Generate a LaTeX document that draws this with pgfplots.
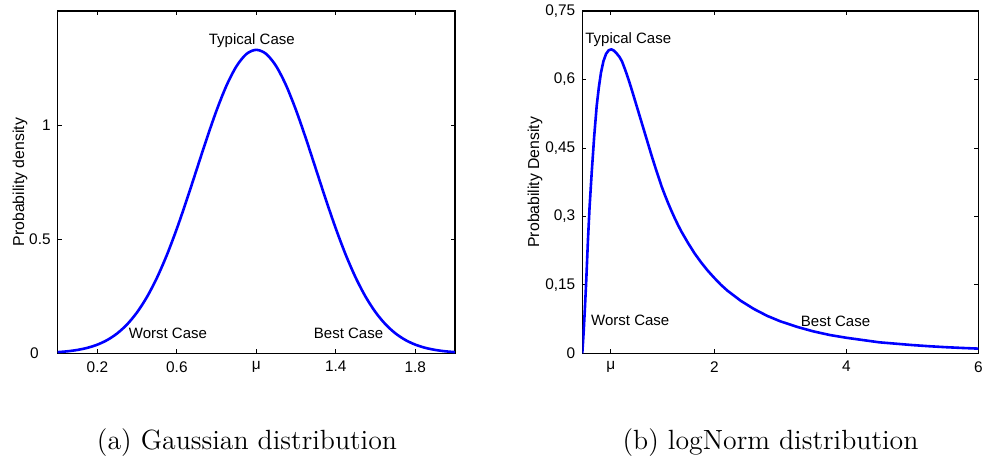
\documentclass[border=0pt]{standalone}
\usepackage{fontspec}
\usepackage{pgfplots}
\pgfplotsset{compat=1.18}
\newfontfamily\arial{Liberation Sans}
\definecolor{mblue}{RGB}{0,0,255}

\pgfplotstableread{
x y
0.00 0.0051
0.05 0.0088
0.10 0.0148
0.15 0.0240
0.20 0.0380
0.25 0.0584
0.30 0.0874
0.35 0.1272
0.40 0.1800
0.45 0.2477
0.50 0.3316
0.55 0.4317
0.60 0.5467
0.65 0.6733
0.70 0.8066
0.75 0.9397
0.80 1.0648
0.85 1.1736
0.90 1.2579
0.95 1.3115
1.00 1.3298
1.05 1.3115
1.10 1.2579
1.15 1.1736
1.20 1.0648
1.25 0.9397
1.30 0.8066
1.35 0.6733
1.40 0.5467
1.45 0.4317
1.50 0.3316
1.55 0.2477
1.60 0.1800
1.65 0.1272
1.70 0.0874
1.75 0.0584
1.80 0.0380
1.85 0.0240
1.90 0.0148
1.95 0.0088
2.00 0.0051
}\gaussdata

\pgfplotstableread{
x y
0.000 0.000
0.020 0.045
0.040 0.100
0.060 0.160
0.086 0.249
0.110 0.320
0.142 0.395
0.180 0.475
0.218 0.542
0.250 0.582
0.283 0.615
0.320 0.640
0.360 0.656
0.400 0.664
0.440 0.666
0.480 0.663
0.520 0.657
0.560 0.650
0.600 0.640
0.650 0.621
0.700 0.600
0.750 0.577
0.800 0.553
0.850 0.529
0.900 0.505
0.950 0.481
1.000 0.457
1.050 0.433
1.100 0.410
1.150 0.388
1.200 0.366
1.250 0.347
1.300 0.329
1.350 0.312
1.400 0.296
1.450 0.281
1.500 0.267
1.600 0.242
1.700 0.219
1.800 0.199
1.900 0.181
2.000 0.165
2.100 0.150
2.200 0.137
2.300 0.126
2.400 0.115
2.500 0.106
2.600 0.097
2.800 0.082
3.000 0.070
3.250 0.058
3.500 0.048
3.750 0.040
4.000 0.034
4.250 0.029
4.500 0.024
4.750 0.021
5.000 0.018
5.250 0.0155
5.500 0.0134
5.750 0.0117
6.000 0.0102
}\lognormdata

\pgfplotsset{
  mstyle/.style={
    scale only axis,
    anchor=south west,
    height=171.15pt,
    tick align=inside,
    major tick length=2pt,
    tick style={black,line width=0.4pt},
    axis line style={black,line width=0.6pt},
    ticklabel style={font=\arial\fontsize{7.7}{9}\selectfont},
    /pgf/number format/assume math mode=true,
    xticklabel style={yshift=-0.5pt},
  },
}
\tikzset{annot/.style={font=\arial\fontsize{7.5}{9}\selectfont, anchor=base, inner sep=0pt}}

\begin{document}
\begin{tikzpicture}[x=1pt,y=1pt]
\useasboundingbox (0,0) rectangle (491,229.5);

\begin{axis}[
  mstyle,
  at={(28.85pt,52.85pt)},
  width=198.65pt,
  xmin=0, xmax=2, ymin=0, ymax=1.5,
  xtick={0.2,0.6,1,1.4,1.8},
  xticklabels={0.2,0.6,μ,1.4,1.8},
  ytick={0,0.5,1},
  yticklabels={0\kern6pt,0.5,1},
  ylabel={Probability density},
  every axis y label/.style={at={(axis description cs:-0.0949,0.5)},rotate=90,anchor=center,font=\arial\fontsize{7.9}{9}\selectfont},
]
\addplot[mblue, line width=1.3pt, smooth, tension=0.5] table {\gaussdata};
\node[annot] at (axis cs:0.977,1.353) {Typical Case};
\node[annot] at (axis cs:0.555,0.066) {Worst Case};
\node[annot] at (axis cs:1.464,0.063) {Best Case};
\end{axis}

\begin{axis}[
  mstyle,
  at={(291.15pt,52.85pt)},
  width=198.1pt,
  xmin=0, xmax=6, ymin=0, ymax=0.75,
  xtick={0.43,2,4,6},
  xticklabels={μ,2,4,6},
  ytick={0,0.15,0.3,0.45,0.6,0.75},
  yticklabels={0,{0,15},{0,3},{0,45},{0,6},{0,75}},
  ylabel={Probability Density},
  every axis y label/.style={at={(axis description cs:-0.1194,0.5)},rotate=90,anchor=center,font=\arial\fontsize{7.9}{9}\selectfont},
]
\addplot[mblue, line width=1.3pt, line join=round] table {\lognormdata};
\node[annot] at (axis cs:0.696,0.678) {Typical Case};
\node[annot] at (axis cs:0.726,0.060) {Worst Case};
\node[annot] at (axis cs:3.835,0.058) {Best Case};
\end{axis}

\node[font=\fontsize{13.9}{16}\selectfont, anchor=base] at (123.5,4.5) {(a) Gaussian distribution};
\node[font=\fontsize{13.9}{16}\selectfont, anchor=base] at (385.25,4.5) {(b) logNorm distribution};
\end{tikzpicture}
\end{document}
